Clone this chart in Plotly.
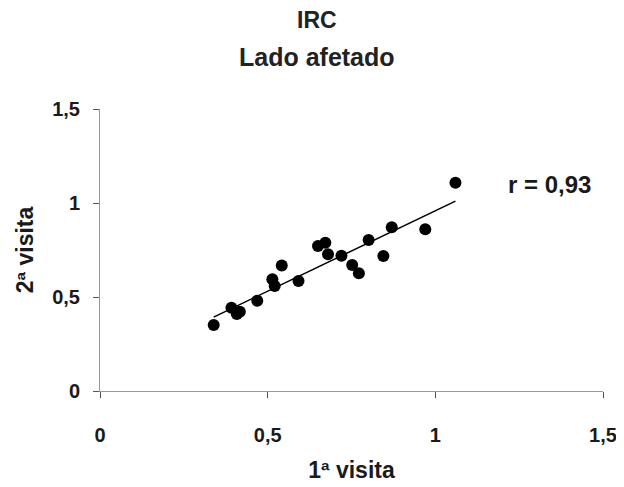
import numpy as np
import plotly.graph_objects as go

visita1 = [1.060, 0.970, 0.870, 0.801, 0.845, 0.720, 0.752, 0.772, 0.672, 0.650,
           0.680, 0.542, 0.592, 0.514, 0.521, 0.469, 0.392, 0.417, 0.408, 0.339]
visita2 = [1.108, 0.860, 0.871, 0.803, 0.718, 0.720, 0.670, 0.626, 0.789, 0.771,
           0.727, 0.667, 0.585, 0.594, 0.559, 0.480, 0.443, 0.422, 0.410, 0.351]
r_label = "r = 0,93"
tick_vals = [0, 0.5, 1, 1.5]
tick_text = ["0", "0,5", "1", "1,5"]

slope, intercept = np.polyfit(visita1, visita2, 1)
fx = np.array([min(visita1), max(visita1)])
fy = slope * fx + intercept

font = "Liberation Sans, Arial, sans-serif"
txt = "#1a1a1a"

fig = go.Figure()
fig.add_trace(go.Scatter(x=fx, y=fy, mode="lines",
                         line=dict(color="black", width=1.5), hoverinfo="skip"))
fig.add_trace(go.Scatter(x=visita1, y=visita2, mode="markers",
                         marker=dict(color="black", size=12)))

fig.add_annotation(x=1.34, y=1.1, text="<b>" + r_label + "</b>", showarrow=False,
                   font=dict(size=24, color=txt, family=font))
fig.add_annotation(xref="paper", yref="paper", x=0.431, y=1.0, yshift=89, yanchor="middle",
                   text="<b>IRC</b>", showarrow=False,
                   font=dict(size=23, color="#222", family=font))
fig.add_annotation(xref="paper", yref="paper", x=0.431, y=1.0, yshift=52, yanchor="middle",
                   text="<b>Lado afetado</b>", showarrow=False,
                   font=dict(size=25, color="#222", family=font))

fig.update_layout(
    width=624, height=487,
    margin=dict(l=92, r=29, t=101, b=104),
    plot_bgcolor="white", paper_bgcolor="white",
    showlegend=False,
    font=dict(family=font, color="black"),
)
fig.update_xaxes(range=[0, 1.5], tickvals=tick_vals,
                 ticktext=["<b>" + t + "</b>" for t in tick_text],
                 showgrid=False, zeroline=False, showline=True, linecolor="#999",
                 linewidth=1, ticks="outside", ticklen=6, tickcolor="#555",
                 tickfont=dict(size=20, family=font, color=txt), ticklabelstandoff=20,
                 title=dict(text="<b>1ª visita</b>", font=dict(size=23, family=font, color=txt), standoff=16))
fig.update_yaxes(range=[0, 1.5], tickvals=tick_vals,
                 ticktext=["<b>" + t + "</b>" for t in tick_text],
                 showgrid=False, zeroline=False, showline=True, linecolor="#999",
                 linewidth=1, ticks="outside", ticklen=6, tickcolor="#555",
                 tickfont=dict(size=20, family=font, color=txt), ticklabelstandoff=9,
                 title=dict(text="<b>2ª visita</b>", font=dict(size=23, family=font, color=txt), standoff=12))

fig.write_html("out.html")
